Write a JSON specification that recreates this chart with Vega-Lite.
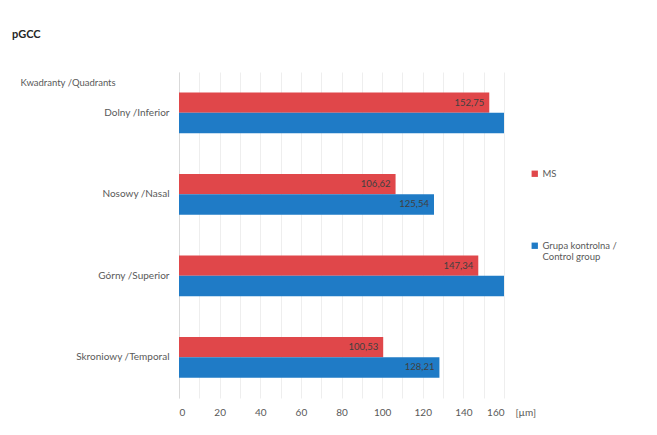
{
  "$schema": "https://vega.github.io/schema/vega-lite/v6.json",
  "autosize": {"type": "none"},
  "width": 325,
  "height": 326,
  "padding": {"left": 179, "top": 72, "right": 153, "bottom": 37},
  "background": "#ffffff",
  "title": {
    "text": "pGCC",
    "anchor": "start",
    "frame": "group",
    "dx": -167,
    "dy": -28,
    "font": "Lato",
    "fontSize": 11,
    "fontWeight": "bold",
    "color": "#262626"
  },
  "config": {
    "view": {"stroke": null},
    "locale": {"number": {"decimal": ",", "thousands": " ", "grouping": [3], "currency": ["", " zł"]}},
    "axis": {"labelFont": "Lato", "titleFont": "Lato", "labelColor": "#595959", "titleColor": "#595959"},
    "legend": {"labelFont": "Lato"}
  },
  "data": {
    "values": [
      {"quadrant": "Dolny /Inferior", "group": "MS", "value": 152.75},
      {"quadrant": "Dolny /Inferior", "group": "Grupa kontrolna / Control group", "value": 160},
      {"quadrant": "Nosowy /Nasal", "group": "MS", "value": 106.62},
      {"quadrant": "Nosowy /Nasal", "group": "Grupa kontrolna / Control group", "value": 125.54},
      {"quadrant": "Górny /Superior", "group": "MS", "value": 147.34},
      {"quadrant": "Górny /Superior", "group": "Grupa kontrolna / Control group", "value": 160},
      {"quadrant": "Skroniowy /Temporal", "group": "MS", "value": 100.53},
      {"quadrant": "Skroniowy /Temporal", "group": "Grupa kontrolna / Control group", "value": 128.21}
    ]
  },
  "encoding": {
    "y": {
      "field": "quadrant",
      "type": "nominal",
      "sort": ["Dolny /Inferior", "Nosowy /Nasal", "Górny /Superior", "Skroniowy /Temporal"],
      "scale": {"paddingInner": 0.5, "paddingOuter": 0.25},
      "axis": {
        "title": "Kwadranty /Quadrants",
        "titleAngle": 0,
        "titleAlign": "left",
        "titleBaseline": "middle",
        "titleX": -159,
        "titleY": 10,
        "titleFontSize": 9.5,
        "titleFontWeight": "normal",
        "labelFontSize": 10,
        "labelPadding": 10,
        "ticks": false,
        "domainColor": "#d9d9d9",
        "grid": false
      }
    },
    "yOffset": {"field": "group", "type": "nominal", "sort": ["MS", "Grupa kontrolna / Control group"]},
    "x": {
      "field": "value",
      "type": "quantitative",
      "scale": {"domain": [0, 160], "nice": false},
      "axis": {
        "title": "[µm]",
        "titleX": 336,
        "titleY": 14,
        "titleAlign": "left",
        "titleBaseline": "middle",
        "titleFontSize": 10,
        "titleFontWeight": "normal",
        "values": [0, 10, 20, 30, 40, 50, 60, 70, 80, 90, 100, 110, 120, 130, 140, 150, 160],
        "labelExpr": "datum.value % 20 == 0 ? datum.label : ''",
        "labelFontSize": 10,
        "labelPadding": 9,
        "ticks": false,
        "domain": false,
        "grid": true,
        "gridColor": "#eeeeee",
        "gridWidth": 1
      }
    }
  },
  "layer": [
    {
      "mark": {"type": "bar", "clip": true},
      "encoding": {
        "color": {
          "field": "group",
          "type": "nominal",
          "sort": ["MS", "Grupa kontrolna / Control group"],
          "scale": {"domain": ["MS", "Grupa kontrolna / Control group"], "range": ["#e0474a", "#1f7bc6"]},
          "legend": {
            "title": null,
            "orient": "none",
            "legendX": 351,
            "legendY": 97,
            "symbolType": "square",
            "symbolSize": 40,
            "symbolStrokeWidth": 0,
            "labelFontSize": 9.5,
            "labelColor": "#595959",
            "labelOffset": 3,
            "rowPadding": 61,
            "labelExpr": "datum.label == 'MS' ? 'MS' : ['Grupa kontrolna  /', 'Control group']"
          }
        }
      }
    },
    {
      "transform": [{"filter": "datum.value < 160"}],
      "mark": {"type": "text", "align": "right", "baseline": "middle", "dx": -5, "font": "Lato", "fontSize": 9.5, "color": "#404040"},
      "encoding": {
        "text": {"field": "value", "type": "quantitative", "format": ".2f"}
      }
    }
  ]
}
